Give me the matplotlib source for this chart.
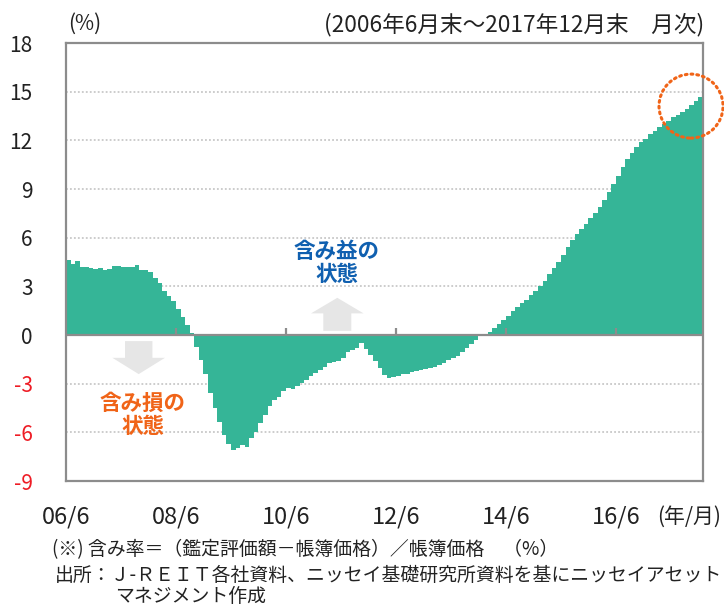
import numpy as np
import matplotlib
matplotlib.use("Agg")
import matplotlib.pyplot as plt
from matplotlib.patches import Ellipse, Polygon

plt.rcParams['font.family'] = ['Noto Sans CJK JP', 'DejaVu Sans']

# ---- data (monthly, 2006/6 - 2017/12) ----
values = [
    4.63, 4.38, 4.55, 4.17, 4.17, 4.10, 4.05, 4.10, 4.00, 4.06,
    4.25, 4.25, 4.17, 4.17, 4.19, 4.32, 4.00, 4.02, 3.86, 3.49,
    3.18, 2.73, 2.42, 2.10, 1.60, 1.11, 0.59, 0.14, -0.74, -1.54,
    -2.43, -3.60, -4.49, -5.35, -6.17, -6.69, -7.06, -6.96, -6.79, -6.90,
    -6.34, -6.00, -5.45, -4.94, -4.38, -4.01, -3.81, -3.44, -3.25, -3.33,
    -3.15, -2.96, -2.76, -2.53, -2.33, -2.14, -1.96, -1.75, -1.69, -1.60,
    -1.44, -1.03, -0.93, -0.82, -0.51, -0.86, -1.23, -1.62, -2.05, -2.47,
    -2.67, -2.60, -2.51, -2.43, -2.39, -2.30, -2.24, -2.18, -2.10, -2.06,
    -1.98, -1.85, -1.73, -1.56, -1.44, -1.28, -1.03, -0.78, -0.54, -0.29,
    -0.07, 0.05, 0.19, 0.44, 0.70, 0.95, 1.20, 1.46, 1.73, 1.97,
    2.17, 2.44, 2.72, 3.01, 3.34, 3.74, 4.15, 4.52, 4.95, 5.40,
    5.85, 6.22, 6.52, 6.87, 7.22, 7.53, 7.90, 8.31, 8.79, 9.30,
    9.79, 10.34, 10.84, 11.25, 11.58, 11.87, 12.11, 12.36, 12.60, 12.83,
    13.02, 13.22, 13.41, 13.57, 13.72, 13.92, 14.15, 14.42, 14.67,
]
xtick_pos = [0, 24, 48, 72, 96, 120]
xtick_labels = ['06/6', '08/6', '10/6', '12/6', '14/6', '16/6']
ytick_vals = [-9, -6, -3, 0, 3, 6, 9, 12, 15, 18]
grid_vals = [-6, -3, 3, 6, 9, 12, 15]

W, H = 724, 607
fig = plt.figure(figsize=(W / 100, H / 100), dpi=100)
ax = fig.add_axes([66 / W, 1 - 481 / H, (703 - 66) / W, (481 - 43) / H])

def fx(px):
    return px / W

def fy(py):
    return 1 - py / H

GREEN = '#35b597'
GRAY = '#8c8c8c'
TXT = '#222222'

n = len(values)
x = np.arange(n)
ax.set_xlim(0, n)
ax.set_ylim(-9, 18)

for g in grid_vals:
    ax.axhline(g, color='#c8c8c8', lw=1.3, ls=(0, (1, 1.2)), zorder=0)

ax.bar(x, values, width=1.0, align='edge', color=GREEN, linewidth=0, zorder=2)

ax.axhline(0, color=GRAY, lw=1.6, zorder=3)
ax.vlines(xtick_pos[1:], 0, 0.45, color=GRAY, lw=1.6, zorder=3)

for s in ax.spines.values():
    s.set_color(GRAY)
    s.set_linewidth(1.6)

ax.set_yticks(ytick_vals)
ax.set_yticklabels([str(v) for v in ytick_vals])
for lab, v in zip(ax.get_yticklabels(), ytick_vals):
    lab.set_color('#ee1c25' if v < 0 else TXT)
ax.tick_params(axis='y', length=0, pad=24, labelsize=15)
ax.set_xticks(xtick_pos)
ax.set_xticklabels(xtick_labels)
ax.tick_params(axis='x', length=0, pad=18, labelsize=17, labelcolor=TXT)

# annotation arrows (light gray)
def to_data(px, py):
    dx = (px - 66) / 4.5827
    dy = (334.9 - py) / 16.222
    return dx, dy

up = [(311, 313.3), (337.3, 297.7), (363.6, 313.3), (351.3, 313.3),
      (351.3, 330.7), (323.3, 330.7), (323.3, 313.3)]
ax.add_patch(Polygon([to_data(*p) for p in up], closed=True,
                     facecolor='#e6e6e6', edgecolor='none', zorder=1))
down = [(125, 341), (152.4, 341), (152.4, 357.7), (165, 357.7),
        (138.7, 374), (112.4, 357.7), (125, 357.7)]
ax.add_patch(Polygon([to_data(*p) for p in down], closed=True,
                     facecolor='#e6e6e6', edgecolor='none', zorder=1))

ax.text(*to_data(337, 263), '含み益の\n状態', color='#1060b0', fontsize=15.5,
        fontweight='bold', ha='center', va='center', linespacing=1.15, zorder=4)
ax.text(*to_data(143, 415), '含み損の\n状態', color='#f06418', fontsize=15.5,
        fontweight='bold', ha='center', va='center', linespacing=1.15, zorder=4)

# dotted orange circle
cx, cy = to_data(691, 106)
ell = Ellipse((cx, cy), width=64 / 4.5827, height=64 / 16.222, fill=False,
              edgecolor='#f06418', lw=2.2, ls=(0, (0.6, 1.3)), zorder=5,
              clip_on=False)
ell.set_capstyle('round')
ax.add_patch(ell)

# texts
fig.text(fx(68), fy(24), '(%)', fontsize=15, ha='left', va='center', color=TXT)
fig.text(fx(704), fy(25), '(2006年6月末～2017年12月末　月次)', fontsize=16.3,
         ha='right', va='center', color=TXT)
fig.text(fx(721), fy(517), '(年/月)', fontsize=15, ha='right', va='center', color=TXT)
fig.text(fx(52), fy(550), '(※) 含み率＝（鑑定評価額－帳簿価格）／帳簿価格　（%）',
         fontsize=13.6, ha='left', va='center', color=TXT)
fig.text(fx(55), fy(575), '出所：Ｊ-ＲＥＩＴ各社資料、ニッセイ基礎研究所資料を基にニッセイアセット',
         fontsize=13.6, ha='left', va='center', color=TXT)
fig.text(fx(115), fy(596), 'マネジメント作成', fontsize=13.6, ha='left', va='center',
         color=TXT)

fig.savefig('out.png', dpi=100)
